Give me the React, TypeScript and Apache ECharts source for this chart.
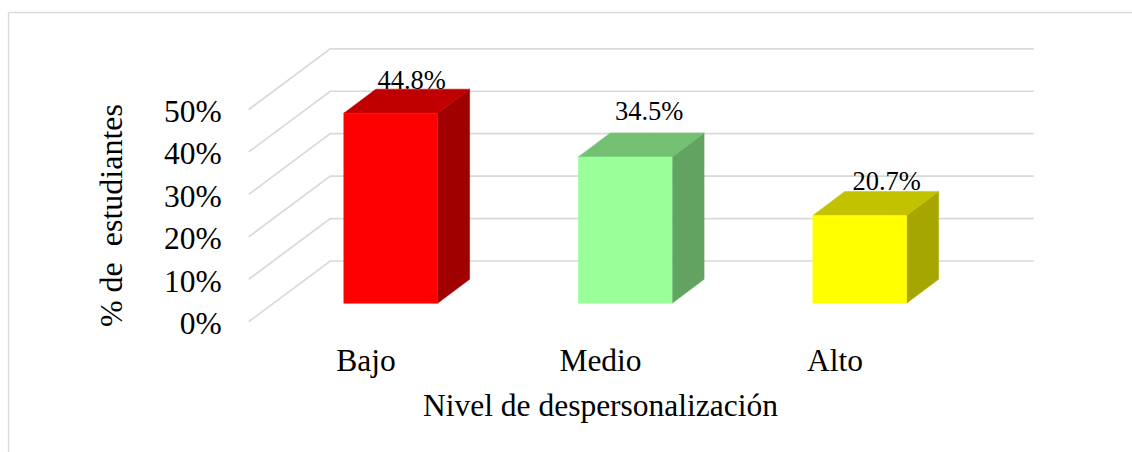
import React, { useEffect, useRef } from "react";
import * as echarts from "echarts";

const categories = ["Bajo", "Medio", "Alto"];
const percentages = [44.8, 34.5, 20.7];
const dataLabels = ["44.8%", "34.5%", "20.7%"];
const tickValues = [0, 10, 20, 30, 40, 50];
const xAxisTitle = "Nivel de despersonalización";
const yAxisTitle = "% de  estudiantes";

const frontColors = ["#ff0000", "#99ff99", "#ffff00"];
const topColors = ["#c00000", "#73c073", "#c2c200"];
const sideColors = ["#a00000", "#62a362", "#a6a600"];
const labelNudgeX = [21, 24, 27];
const labelLift = [9, 22, 10];

const FONT = '"Liberation Serif", "Times New Roman", serif';
const GRID_COLOR = "#d9d9d9";
const WALL_DX = 81.5;
const WALL_DY = 60.7;
const FLOOR_DX = 24.7;
const FLOOR_DY = 18.4;
const BAR_DX = 32;
const BAR_DY = 24;
const BAR_FRACTION = 0.4;

export default function App() {
  const ref = useRef<HTMLDivElement>(null);
  useEffect(() => {
    const chart = echarts.init(ref.current!, undefined, { renderer: "svg" });
    chart.setOption({
      animation: false,
      backgroundColor: "#ffffff",
      grid: { left: 248.75, top: 109.5, width: 703.5, height: 212.2, containLabel: false },
      graphic: [
        { type: "line", shape: { x1: 8.5, y1: 12.5, x2: 1132, y2: 12.5 }, style: { stroke: GRID_COLOR, lineWidth: 1.3 } },
        { type: "line", shape: { x1: 8.5, y1: 12.5, x2: 8.5, y2: 452 }, style: { stroke: GRID_COLOR, lineWidth: 1.3 } },
      ],
      xAxis: {
        type: "category",
        data: categories,
        axisLine: { show: false },
        axisTick: { show: false },
        axisLabel: { color: "#000", fontFamily: FONT, fontSize: 31.5, margin: 23 },
        name: xAxisTitle,
        nameLocation: "middle",
        nameGap: 68,
        nameTextStyle: { color: "#000", fontFamily: FONT, fontSize: 31.5 },
      },
      yAxis: {
        type: "value",
        min: 0,
        max: 50,
        interval: 10,
        splitLine: { show: false },
        axisLine: { show: false },
        axisTick: { show: false },
        axisLabel: {
          margin: 27,
          formatter: "{t|{value}%}",
          rich: { t: { color: "#000", fontFamily: FONT, fontSize: 31.5, padding: [4, 0, 0, 0] } },
        },
        name: yAxisTitle,
        nameLocation: "middle",
        nameGap: 122,
        nameTextStyle: { color: "#000", fontFamily: FONT, fontSize: 32 },
      },
      series: [
        {
          type: "custom",
          coordinateSystem: "cartesian2d",
          silent: true,
          z: 1,
          data: tickValues.map((v) => [0, v]),
          encode: { x: 0, y: 1 },
          renderItem: (params: any, api: any) => {
            const y = api.coord([0, api.value(1)])[1];
            const { x: left, width } = params.coordSys;
            return {
              type: "polyline",
              shape: {
                points: [
                  [left, y],
                  [left + WALL_DX, y - WALL_DY],
                  [left + width + WALL_DX, y - WALL_DY],
                ],
              },
              style: { stroke: GRID_COLOR, lineWidth: 1.7, fill: "none" },
            };
          },
        },
        {
          type: "custom",
          coordinateSystem: "cartesian2d",
          silent: true,
          z: 2,
          data: percentages.map((v, i) => [i, v]),
          encode: { x: 0, y: 1 },
          renderItem: (params: any, api: any) => {
            const i = params.dataIndex;
            const top = api.coord([i, api.value(1)]);
            const base = api.coord([i, 0]);
            const w = api.size([1, 0])[0] * BAR_FRACTION;
            const xl = top[0] + FLOOR_DX - w / 2;
            const xr = xl + w;
            const yt = top[1] - FLOOR_DY;
            const yb = base[1] - FLOOR_DY;
            const poly = (points: number[][], fill: string) => ({
              type: "polygon",
              shape: { points },
              style: { fill, stroke: fill, lineWidth: 0.5 },
            });
            return {
              type: "group",
              children: [
                {
                  type: "text",
                  style: {
                    text: dataLabels[i],
                    x: (xl + xr) / 2 + labelNudgeX[i],
                    y: yt - BAR_DY - labelLift[i],
                    align: "center",
                    verticalAlign: "middle",
                    fill: "#000",
                    font: `26.5px ${FONT}`,
                  },
                },
                poly([[xr, yt], [xr + BAR_DX, yt - BAR_DY], [xr + BAR_DX, yb - BAR_DY], [xr, yb]], sideColors[i]),
                poly([[xl, yt], [xl + BAR_DX, yt - BAR_DY], [xr + BAR_DX, yt - BAR_DY], [xr, yt]], topColors[i]),
                poly([[xl, yt], [xr, yt], [xr, yb], [xl, yb]], frontColors[i]),
              ],
            };
          },
        },
      ],
    });
    return () => chart.dispose();
  }, []);
  return <div ref={ref} style={{ position: "absolute", left: 0, top: 0, width: 1132, height: 452 }} />;
}
